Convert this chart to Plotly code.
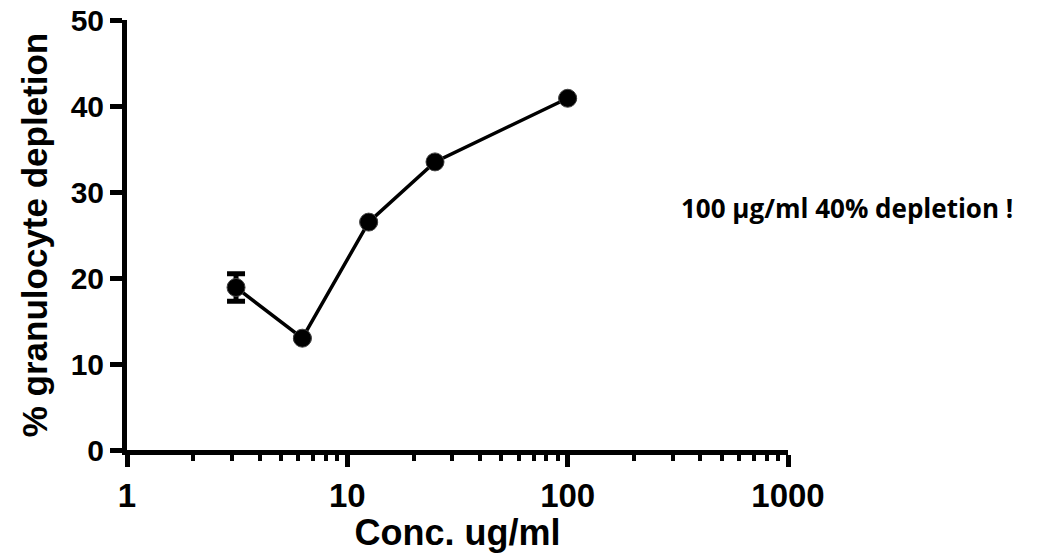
import plotly.graph_objects as go

# Concentration series (ug/ml) and measured depletion (%)
conc = [3.125, 6.25, 12.5, 25, 100]
depletion = [18.9, 13.0, 26.5, 33.5, 40.9]
depletion_err = [1.6, 0.0, 0.0, 0.0, 0.0]

x_ticks = [1, 10, 100, 1000]
x_tick_labels = ["1", "10", "100", "1000"]
y_ticks = [0, 10, 20, 30, 40, 50]
y_tick_labels = ["0", "10", "20", "30", "40", "50"]

note = "100 μg/ml 40% depletion !"

fig = go.Figure()
fig.add_trace(go.Scatter(
    x=conc, y=depletion,
    mode="lines+markers",
    line=dict(color="black", width=3.5),
    marker=dict(color="black", size=18, line=dict(color="#444", width=1)),
    error_y=dict(type="data", array=depletion_err, visible=True,
                 color="black", thickness=5, width=9),
    showlegend=False,
))

fig.update_layout(
    width=1048, height=553,
    margin=dict(l=127, r=260, t=20, b=103),
    paper_bgcolor="white", plot_bgcolor="white",
    font=dict(family="Arial", color="black"),
    xaxis=dict(
        type="log", range=[0, 3], automargin=False,
        tickvals=x_ticks, ticktext=["<b>%s</b>" % t for t in x_tick_labels],
        ticks="outside", ticklen=12, tickwidth=4.5, tickcolor="black",
        minor=dict(ticks="outside", ticklen=6, tickwidth=3.5, tickcolor="black", dtick="D1"),
        showline=True, linecolor="black", linewidth=5,
        showgrid=False, zeroline=False,
        tickfont=dict(family="Arial", size=33, color="black"),
        title=dict(text="<b>Conc. ug/ml</b>", font=dict(family="Arial", size=36, color="black"), standoff=2),
    ),
    yaxis=dict(
        range=[0, 50], automargin=False,
        tickvals=y_ticks, ticktext=["<b>%s</b>" % t for t in y_tick_labels],
        ticks="outside", ticklen=12, tickwidth=4.5, tickcolor="black",
        showline=True, linecolor="black", linewidth=5,
        showgrid=False, zeroline=False,
        tickfont=dict(family="Arial", size=30, color="black"),
        title=dict(text="<b>% granulocyte depletion</b>", font=dict(family="Arial", size=35, color="black"), standoff=14),
    ),
)

fig.add_annotation(
    text="<b>" + note + "</b>",
    xref="paper", yref="paper", x=1.089, y=0.562,
    xanchor="center", yanchor="middle", showarrow=False,
    font=dict(family="Open Sans", size=26, color="black"),
)

fig.write_html("out.html")
